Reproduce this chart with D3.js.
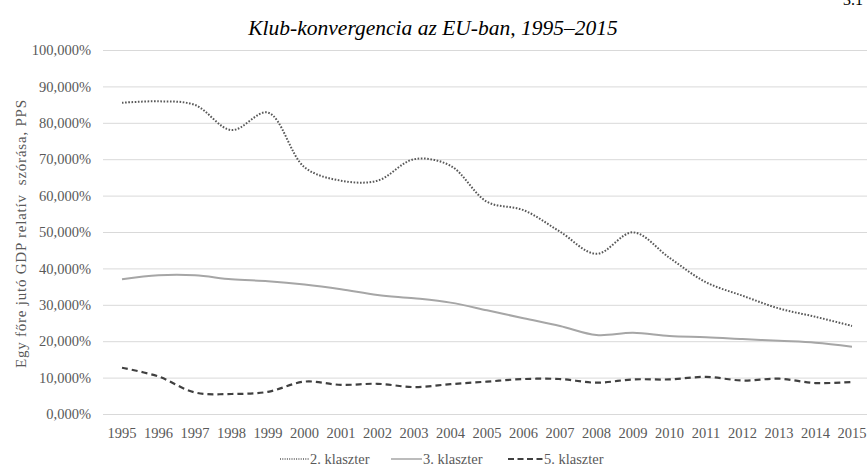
<!DOCTYPE html>
<html><head><meta charset="utf-8">
<script src="https://cdn.jsdelivr.net/npm/d3@7"></script>
<style>body{margin:0;background:#fff}svg{display:block}</style>
</head><body><svg id="c" width="867" height="468"></svg>
<script>
const years = ["1995","1996","1997","1998","1999","2000","2001","2002","2003","2004","2005","2006","2007","2008","2009","2010","2011","2012","2013","2014","2015"];
const klaszter2 = [85.5,85.9,84.9,78.0,82.8,67.8,64.1,64.1,70.0,68.2,58.3,56.0,50.1,44.0,49.9,42.9,36.2,32.5,29.0,26.7,24.2];
const klaszter3 = [37.0,38.1,38.1,37.0,36.5,35.6,34.3,32.7,31.8,30.6,28.5,26.3,24.2,21.7,22.3,21.4,21.1,20.6,20.1,19.6,18.5];
const klaszter5 = [12.7,10.3,5.9,5.5,6.1,8.9,8.0,8.3,7.4,8.2,8.9,9.6,9.6,8.6,9.5,9.5,10.2,9.2,9.7,8.5,8.8];
const yTicks = [0,10,20,30,40,50,60,70,80,90,100];
const seriesNames = ["2. klaszter","3. klaszter","5. klaszter"];

const svg = d3.select("#c");
const serif = "'Liberation Serif','Times New Roman',serif";
const x = d3.scaleBand().domain(years).range([103.75, 870.25]);
const y = d3.scaleLinear().domain([0,100]).range([414, 50]);

svg.append("text").attr("x",843).attr("y",5).attr("font-family",serif).attr("font-size",16).attr("fill","#000").text("3.1");
svg.append("text").attr("x",433).attr("y",35).attr("text-anchor","middle").attr("font-family",serif)
  .attr("font-style","italic").attr("font-size",21.5).attr("fill","#000").text("Klub-konvergencia az EU-ban, 1995–2015");

// grid
svg.append("g").selectAll("line").data(yTicks).join("line")
  .attr("x1",103).attr("x2",867).attr("y1",d=>y(d)+0.5).attr("y2",d=>y(d)+0.5)
  .attr("stroke","#d9d9d9").attr("stroke-width",1);

const yAxis = svg.append("g").attr("transform","translate(103,0)")
  .call(d3.axisLeft(y).tickValues(yTicks).tickSize(0).tickPadding(12).tickFormat(d=>d3.format(".3f")(d).replace(".",",")+"%"));
yAxis.select(".domain").remove();
yAxis.selectAll("text").attr("font-family",serif).attr("font-size",14.5).attr("fill","#595959");

const xAxis = svg.append("g").attr("transform","translate(0,414)")
  .call(d3.axisBottom(x).tickSize(0).tickPadding(14));
xAxis.select(".domain").remove();
xAxis.selectAll("text").attr("font-family",serif).attr("font-size",14.5).attr("fill","#595959");

svg.append("text").attr("transform","translate(26,234) rotate(-90)").attr("text-anchor","middle")
  .attr("font-family",serif).attr("font-size",15).attr("fill","#595959").attr("xml:space","preserve")
  .attr("textLength",268).attr("lengthAdjust","spacing")
  .text("Egy főre jutó GDP relatív  szórása, PPS");

const styles = [
  {data:klaszter2, stroke:"#595959", dash:"1.6,1.6", w:2},
  {data:klaszter3, stroke:"#a6a6a6", dash:null, w:2},
  {data:klaszter5, stroke:"#404040", dash:"6,4", w:2.2}
];
const line = d3.line().x((d,i)=>x(years[i])+x.bandwidth()/2).y(d=>y(d)).curve(d3.curveCatmullRom.alpha(0.5));
styles.forEach(s=>{
  svg.append("path").attr("d",line(s.data)).attr("fill","none").attr("stroke",s.stroke)
    .attr("stroke-width",s.w).attr("stroke-dasharray",s.dash);
});

// legend
const legX = [280, 391, 508];
const legW = [29, 31, 35];
seriesNames.forEach((n,i)=>{
  const s = styles[i];
  svg.append("line").attr("x1",legX[i]).attr("x2",legX[i]+legW[i]).attr("y1",459).attr("y2",459)
    .attr("stroke",s.stroke).attr("stroke-width",i===2?2:1.5).attr("stroke-dasharray",s.dash?(i===0?"1,1.3":"6,3.5"):null);
  svg.append("text").attr("x",legX[i]+legW[i]+1).attr("y",464).attr("font-family",serif)
    .attr("font-size",14.5).attr("fill","#595959").text(n);
});
</script></body></html>
